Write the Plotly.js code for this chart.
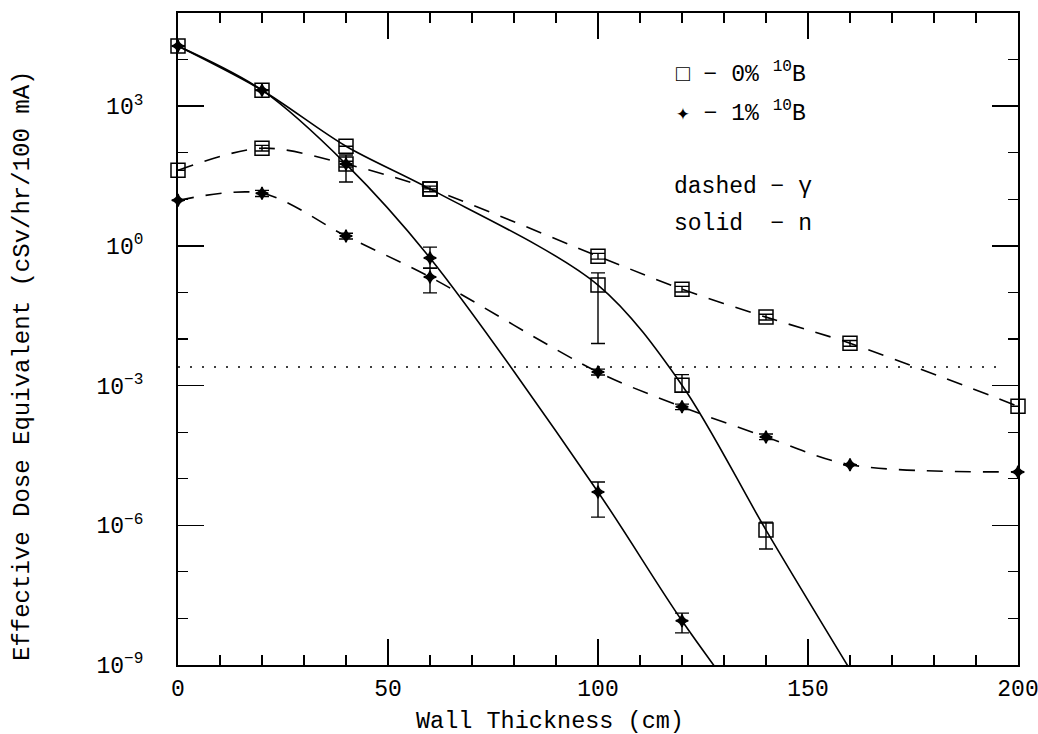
<!DOCTYPE html>
<html>
<head>
<meta charset="utf-8">
<script src="https://cdn.plot.ly/plotly-3.0.1.min.js"></script>
<style>html,body{margin:0;padding:0;background:#fff;}#chart{width:1038px;height:734px;}</style>
</head>
<body>
<div id="chart"></div>
<script>
// ---- data (Wall thickness in cm, dose in cSv/hr/100 mA) ----
// 0% 10B, neutron (solid, squares)
const thick0n = [0, 20, 40, 60, 100, 120, 140, 160];
const dose0n  = [1.95e4, 2200, 138, 16.7, 0.144, 1.02e-3, 7.9e-7, 8e-10];
const err0nUp = [0, 0, 0, 0, 0.119, 7e-4, 3.8e-7, 0];
const err0nDn = [0, 0, 0, 0, 0.136, 3e-4, 4.8e-7, 0];
// 0% 10B, gamma (dashed, squares)
const thick0g = [0, 20, 40, 60, 100, 120, 140, 160, 200];
const dose0g  = [42, 125, 57, 16.7, 0.60, 0.117, 0.0295, 0.0081, 3.6e-4];
const err0gUp = [0, 19, 8.5, 2.5, 0.09, 0.018, 0.0045, 0.0012, 0];
const err0gDn = [0, 16, 7.5, 2.2, 0.08, 0.015, 0.0039, 0.0011, 0];
// 1% 10B, neutron (solid, stars)
const thick1n = [0, 20, 40, 60, 100, 120, 140];
const dose1n  = [1.95e4, 2200, 57, 0.55, 5.2e-6, 8.9e-9, 3e-11];
const err1nUp = [0, 0, 32, 0.39, 3.3e-6, 4.1e-9, 0];
const err1nDn = [0, 0, 33.5, 0.22, 3.7e-6, 4.0e-9, 0];
// 1% 10B, gamma (dashed, stars)
const thick1g = [0, 20, 40, 60, 100, 120, 140, 160, 200];
const dose1g  = [9.5, 13.5, 1.62, 0.214, 1.95e-3, 3.5e-4, 7.9e-5, 2.0e-5, 1.4e-5];
const err1gUp = [0, 2, 0.25, 0.116, 3e-4, 5e-5, 1.2e-5, 0, 0];
const err1gDn = [0, 2, 0.22, 0.116, 2.6e-4, 4.5e-5, 1.0e-5, 0, 0];
// reference level (dotted)
const limitX = [0, 197];
const limitY = [2.5e-3, 2.5e-3];
// axis ticks
const xTickVals = [0, 50, 100, 150, 200];
const xMinorVals = [10, 20, 30, 40, 60, 70, 80, 90, 110, 120, 130, 140, 160, 170, 180, 190];
const yTickVals = [1e-9, 1e-6, 1e-3, 1, 1e3];
const yTickText = ['10<sup>\u22129</sup>', '10<sup>\u22126</sup>', '10<sup>\u22123</sup>', '10<sup>0</sup>', '10<sup>3</sup>'];
const yMinorVals = [1e-8, 1e-7, 1e-5, 1e-4, 1e-2, 1e-1, 10, 100, 1e4, 1e5];
const xTitle = 'Wall Thickness (cm)';
const yTitle = 'Effective Dose Equivalent (cSv/hr/100 mA)';

const FONT = 'Liberation Mono, Courier New, monospace';
const YMIN = 1e-9;

function lineTrace(x, y, dash) {
  return {x: x, y: y, mode: 'lines', type: 'scatter', showlegend: false, hoverinfo: 'skip',
    line: {color: '#000', width: 1.6, dash: dash, shape: 'spline', smoothing: 0.9}};
}
function markerTrace(x, y, up, dn, symbol, size) {
  const keep = y.map(v => v >= YMIN);
  const f = a => a.filter((_, i) => keep[i]);
  return {x: f(x), y: f(y), mode: 'markers', type: 'scatter', showlegend: false, cliponaxis: false,
    marker: {symbol: symbol, size: size, color: '#000', line: {color: '#000', width: 1.5}},
    error_y: {type: 'data', symmetric: false, array: f(up), arrayminus: f(dn),
      color: '#000', thickness: 1.4, width: 7}};
}

const traces = [
  {x: limitX, y: limitY, mode: 'lines', type: 'scatter', showlegend: false, hoverinfo: 'skip',
   line: {color: '#000', width: 1.6, dash: '2px,10px'}},
  lineTrace(thick0n, dose0n, 'solid'),
  lineTrace(thick1n, dose1n, 'solid'),
  lineTrace(thick0g, dose0g, '16px,12px'),
  lineTrace(thick1g, dose1g, '16px,12px'),
  markerTrace(thick0n, dose0n, err0nUp, err0nDn, 'square-open', 14),
  markerTrace(thick0g, dose0g, err0gUp, err0gDn, 'square-open', 14),
  markerTrace(thick1n, dose1n, err1nUp, err1nDn, 'star-diamond', 9),
  markerTrace(thick1g, dose1g, err1gUp, err1gDn, 'star-diamond', 9)
];

const axisCommon = {
  showline: true, linecolor: '#000', linewidth: 2, mirror: 'allticks',
  showgrid: false, zeroline: false, ticks: 'inside', ticklen: 26, tickwidth: 1.5, tickcolor: '#000',
  tickfont: {family: FONT, size: 23, color: '#000'}, ticklabeloverflow: 'allow'
};

const layout = {
  width: 1038, height: 734,
  margin: {l: 178, r: 20, t: 13, b: 69},
  paper_bgcolor: '#fff', plot_bgcolor: '#fff',
  showlegend: false,
  xaxis: Object.assign({}, axisCommon, {
    range: [0, 200], tickmode: 'array', tickvals: xTickVals, ticklabelstandoff: 1,
    minor: {tickmode: 'array', tickvals: xMinorVals, ticks: 'inside', ticklen: 10, tickwidth: 1.2, tickcolor: '#000'}
  }),
  yaxis: Object.assign({}, axisCommon, {
    type: 'log', range: [-9, 5], tickmode: 'array', tickvals: yTickVals, ticktext: yTickText,
    ticklabelstandoff: 28,
    minor: {tickmode: 'array', tickvals: yMinorVals, ticks: 'inside', ticklen: 10, tickwidth: 1.2, tickcolor: '#000'}
  }),
  annotations: [
    {xref: 'paper', yref: 'paper', x: (550 - 178) / 840, y: (665 - 721) / 652, xanchor: 'center', yanchor: 'middle',
     showarrow: false, text: xTitle, font: {family: FONT, size: 23.5, color: '#000'}},
    {xref: 'paper', yref: 'paper', x: (22 - 178) / 840, y: (665 - 366) / 652, xanchor: 'center', yanchor: 'middle',
     showarrow: false, textangle: -90, text: yTitle, font: {family: FONT, size: 24, color: '#000'}},
    {xref: 'paper', yref: 'paper', x: 0.590, y: 0.908, xanchor: 'left', yanchor: 'middle', showarrow: false,
     text: '\u25A1 \u2212 0% <sup>10</sup>B', font: {family: FONT, size: 23, color: '#000'}},
    {xref: 'paper', yref: 'paper', x: 0.590, y: 0.848, xanchor: 'left', yanchor: 'middle', showarrow: false,
     text: '\u2726 \u2212 1% <sup>10</sup>B', font: {family: FONT, size: 23, color: '#000'}},
    {xref: 'paper', yref: 'paper', x: 0.588, y: 0.733, xanchor: 'left', yanchor: 'middle', showarrow: false,
     text: 'dashed \u2212 \u03B3', font: {family: FONT, size: 23, color: '#000'}},
    {xref: 'paper', yref: 'paper', x: 0.588, y: 0.676, xanchor: 'left', yanchor: 'middle', showarrow: false,
     text: 'solid  \u2212 n', font: {family: FONT, size: 23, color: '#000'}}
  ]
};

Plotly.newPlot('chart', traces, layout, {staticPlot: true, displayModeBar: false});
</script>
</body>
</html>
